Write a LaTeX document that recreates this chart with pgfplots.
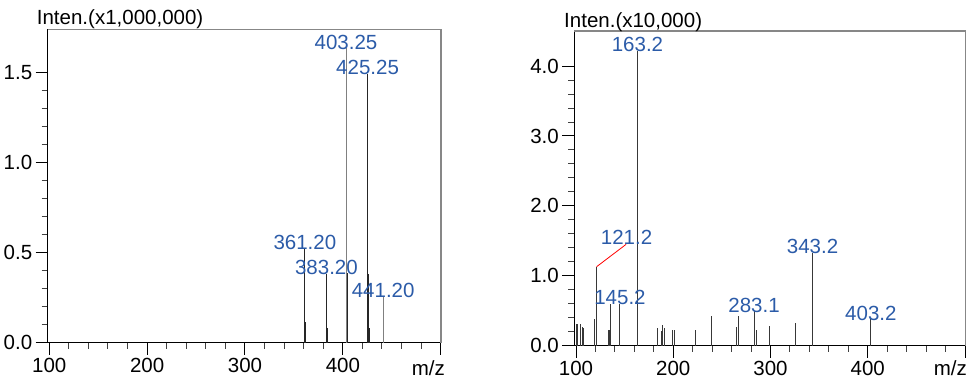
\documentclass[border=0pt]{standalone}
\usepackage{pgfplots}
\pgfplotsset{compat=1.18}
\usepackage{fontspec}
\setmainfont{Liberation Sans}

\definecolor{peakblue}{RGB}{43,91,168}
\definecolor{framegray}{RGB}{135,135,135}
\newcommand\chartfont{\fontsize{20.5}{24}\selectfont}

\pgfplotsset{
  spectrum/.style={
    scale only axis,
    anchor=south west,
    clip=false,
    axis x line*=bottom,
    axis y line*=left,
    axis line style={black, line width=1.2pt},
    tick align=outside,
    major tick length=12pt,
    minor tick length=6pt,
    every major tick/.append style={black, line width=1pt},
    every minor tick/.append style={black!75, line width=1pt},
    tick label style={font=\chartfont},
    /pgf/number format/assume math mode=true,
    xtick={100,200,300,400,500},
    xticklabels={100,200,300,400,{}},
    minor x tick num=4,
    yticklabel style={/pgf/number format/.cd, fixed, fixed zerofill, precision=1},
    ymin=0,
  },
  peaks/.style={ycomb, mark=none, line width=1pt, draw=#1},
  labelled/.style={
    nodes near coords,
    point meta=explicit symbolic,
    every node near coord/.append style={anchor=base, text=peakblue,
      font=\chartfont, inner sep=0pt, yshift=-1pt},
  },
}

\begin{document}
\begin{tikzpicture}
\path[use as bounding box] (0,0) rectangle (968pt,383pt);

% ---- ESI spectrum, intensity in units of 1,000,000 ----
\begin{axis}[spectrum,
  at={(47.7pt,40.3pt)},
  width=393.3pt, height=313.4pt,
  xmin=98.4, xmax=500.3,
  ymax=1.741,
  ytick={0,0.5,1,1.5},
  minor y tick num=4,
]
\addplot[peaks=black!85] table {
x y
362.2 0.117
384.2 0.080
404.25 0.385
426.2 0.383
427.2 0.080
};
\addplot[peaks=black!85, labelled] table[meta=label] {
x y label
361.20 0.526 361.20
383.20 0.383 383.20
425.25 1.494 425.25
};
\addplot[peaks=black!50, labelled] table[meta=label] {
x y label
403.25 1.637 403.25
441.20 0.257 441.20
};
\draw[framegray, line width=1.5pt] (rel axis cs:0,1) -- (rel axis cs:1,1) -- (rel axis cs:1,0);
\node[anchor=base west, font=\chartfont, inner sep=0pt] at ([xshift=-11pt, yshift=4.3pt]rel axis cs:0,1) {Inten.(x1,000,000)};
\node[anchor=base east, font=\chartfont, inner sep=0pt] at ([xshift=4pt, yshift=-32.3pt]rel axis cs:1,0) {m/z};
\end{axis}

% ---- MS/MS spectrum, intensity in units of 10,000 ----
\begin{axis}[spectrum,
  at={(574.3pt,37.3pt)},
  width=391.4pt, height=314.7pt,
  xmin=98.25, xmax=500.7,
  ymax=4.502,
  ytick={0,1,2,3,4},
  minor y tick num=4,
]
\addplot[peaks=black!78] table {
x y
101.0 0.31
102.0 0.31
105.0 0.31
106.5 0.27
107.5 0.26
119.5 0.38
121.2 1.13
133.0 0.23
134.0 0.23
135.0 0.60
183.5 0.25
187.5 0.21
189.3 0.30
190.5 0.26
199.0 0.22
201.0 0.22
223.0 0.22
239.5 0.42
265.5 0.27
267.5 0.42
285.5 0.23
299.0 0.28
325.5 0.33
};
\addplot[peaks=black!78, labelled] table[meta=label] {
x y label
145.2 0.60 145.2
163.2 4.22 163.2
283.1 0.49 283.1
343.2 1.33 343.2
403.2 0.38 403.2
};
\draw[red, line width=0.8pt] (axis cs:121.2,1.13) -- (axis cs:151.5,1.45);
\node[anchor=base, text=peakblue, font=\chartfont, inner sep=0pt] at (axis cs:152,1.45) {121.2};
\draw[framegray, line width=1.5pt] (rel axis cs:0,1) -- (rel axis cs:1,1) -- (rel axis cs:1,0);
\node[anchor=base west, font=\chartfont, inner sep=0pt] at ([xshift=-10.3pt, yshift=3.7pt]rel axis cs:0,1) {Inten.(x10,000)};
\node[anchor=base east, font=\chartfont, inner sep=0pt] at ([xshift=1.3pt, yshift=-30pt]rel axis cs:1,0) {m/z};
\end{axis}
\end{tikzpicture}
\end{document}
